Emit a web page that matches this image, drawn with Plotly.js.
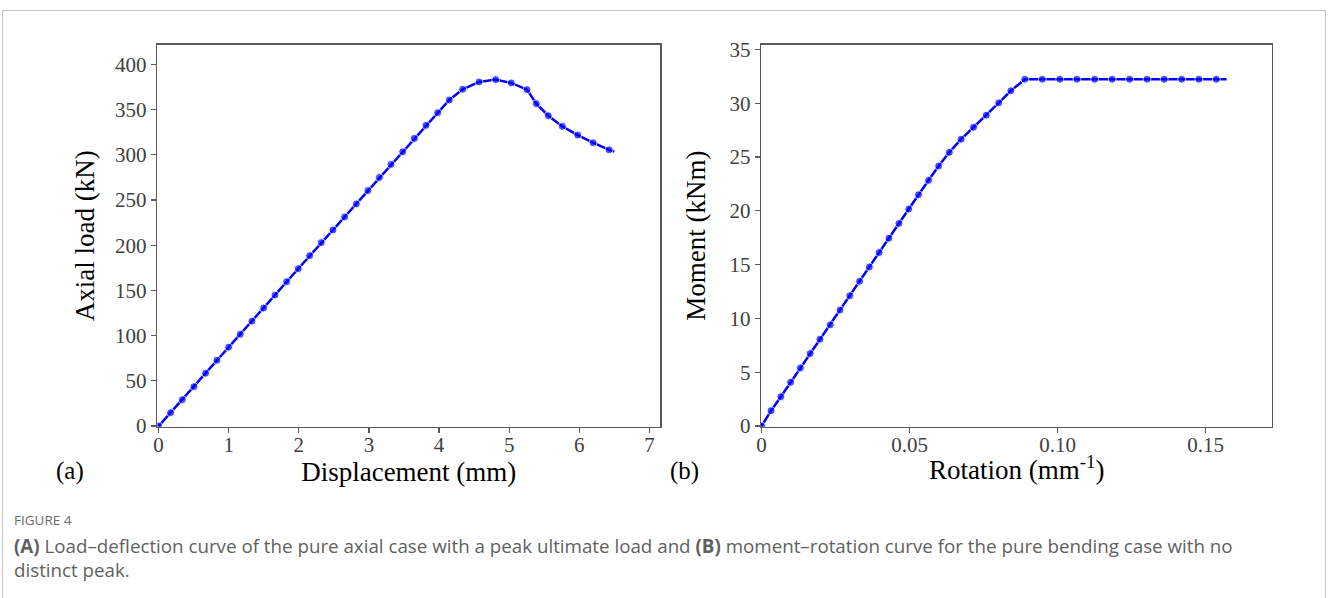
<!DOCTYPE html>
<html>
<head>
<meta charset="utf-8">
<script src="https://cdn.plot.ly/plotly-3.0.1.min.js"></script>
<style>
  html, body { margin: 0; padding: 0; background: #ffffff; }
  #chart { width: 1328px; height: 598px; }
</style>
</head>
<body>
<div id="chart"></div>
<script>
// Panel (a): load–deflection, pure axial case
const dispMm = [0, 0.171, 0.338, 0.504, 0.670, 0.832, 0.999, 1.165, 1.331, 1.498, 1.660, 1.826, 1.992,
  2.154, 2.320, 2.487, 2.653, 2.820, 2.986, 3.148, 3.314, 3.481, 3.647, 3.814, 3.980, 4.146,
  4.337, 4.570, 4.807, 5.030, 5.254, 5.387, 5.558, 5.758, 5.977, 6.196, 6.424, 6.500];
const axialKN = [0, 14.8, 29.2, 43.6, 58.4, 72.8, 87.2, 101.6, 116.0, 130.4, 144.8, 159.6, 174.0,
  188.4, 202.8, 216.8, 231.2, 245.6, 260.4, 274.8, 289.2, 303.2, 318.0, 332.4, 346.4, 360.5,
  372.3, 380.4, 383.0, 379.3, 371.9, 356.4, 343.1, 331.3, 321.7, 313.2, 305.4, 303.4];

// Panel (b): moment–rotation, pure bending case
const rotation = [0, 0.0032, 0.0065, 0.0098, 0.0131, 0.0164, 0.0197, 0.0232, 0.0265, 0.0298, 0.0331,
  0.0364, 0.0397, 0.0430, 0.0464, 0.0497, 0.0530, 0.0564, 0.0598, 0.0634, 0.0674, 0.0716, 0.0759,
  0.0801, 0.0842, 0.0889, 0.0948, 0.1007, 0.1065, 0.1125, 0.1184, 0.1243, 0.1302, 0.1360, 0.1419,
  0.1477, 0.1536, 0.1571];
const momentKNm = [0, 1.43, 2.73, 4.07, 5.40, 6.74, 8.07, 9.41, 10.78, 12.11, 13.45, 14.78, 16.12,
  17.45, 18.82, 20.16, 21.49, 22.83, 24.16, 25.43, 26.65, 27.76, 28.88, 30.03, 31.15, 32.22,
  32.22, 32.22, 32.22, 32.22, 32.22, 32.22, 32.22, 32.22, 32.22, 32.22, 32.22, 32.22];

const xTicksA = [0, 1, 2, 3, 4, 5, 6, 7];
const yTicksA = [0, 50, 100, 150, 200, 250, 300, 350, 400];
const xTicksB = [0, 0.05, 0.10, 0.15];
const xTickTextB = ["0", "0.05", "0.10", "0.15"];
const yTicksB = [0, 5, 10, 15, 20, 25, 30, 35];

const captionLabel = "FIGURE 4";
const captionLine1 = "<b>(A)</b> Load\u2013deflection curve of the pure axial case with a peak ultimate load and <b>(B)</b> moment\u2013rotation curve for the pure bending case with no";
const captionLine2 = "distinct peak.";

const BLUE = "#0000ff";
const markerSizes = arr => arr.map((v, i) => (i === arr.length - 1 ? 0 : 8));

const traces = [
  { x: dispMm, y: axialKN, xaxis: "x", yaxis: "y", type: "scatter", mode: "lines+markers",
    line: { color: BLUE, width: 2.5 }, marker: { color: BLUE, size: markerSizes(dispMm) },
    hoverinfo: "x+y", showlegend: false },
  { x: rotation, y: momentKNm, xaxis: "x2", yaxis: "y2", type: "scatter", mode: "lines+markers",
    line: { color: BLUE, width: 2.5 }, marker: { color: BLUE, size: markerSizes(rotation) },
    hoverinfo: "x+y", showlegend: false }
];

const W = 1328, H = 598;
const px = v => v / W, py = v => 1 - v / H;
const serif = "Liberation Serif, Times New Roman, serif";
const tickFont = { family: serif, size: 21, color: "#404040" };
const titleFont = { family: serif, size: 27, color: "#000000" };
const axisCommon = {
  showgrid: false, zeroline: false, showline: true, mirror: true,
  linecolor: "#5a5a5a", linewidth: 1.4, ticks: "outside", ticklen: 5, tickwidth: 1.2,
  tickcolor: "#5a5a5a", tickfont: tickFont, automargin: false
};
const yDom = [py(426.8), py(44.5)];

const layout = {
  width: W, height: H,
  margin: { l: 0, r: 0, t: 0, b: 0 },
  paper_bgcolor: "#ffffff", plot_bgcolor: "#ffffff",
  showlegend: false,
  xaxis: Object.assign({}, axisCommon, {
    domain: [px(157.2), px(660.3)], range: [-0.02, 7.155], anchor: "y",
    tickvals: xTicksA, ticklabelstandoff: -6,
    title: { text: "Displacement (mm)", font: titleFont, standoff: 4 }
  }),
  yaxis: Object.assign({}, axisCommon, {
    domain: yDom, range: [-0.8, 421.8], anchor: "x",
    tickvals: yTicksA,
    title: { text: "Axial load (kN)", font: titleFont, standoff: 12 }
  }),
  xaxis2: Object.assign({}, axisCommon, {
    domain: [px(761), px(1272)], range: [-0.0002, 0.1724], anchor: "y2",
    tickvals: xTicksB, ticktext: xTickTextB, ticklabelstandoff: -6
  }),
  yaxis2: Object.assign({}, axisCommon, {
    domain: yDom, range: [-0.07, 35.45], anchor: "x2",
    tickvals: yTicksB,
    title: { text: "Moment (kNm)", font: titleFont, standoff: 16 }
  }),
  annotations: [
    { text: "Rotation (mm<sup>-1</sup>)", xref: "paper", yref: "paper", x: px(1016.5), y: py(468), xanchor: "center", yanchor: "middle",
      showarrow: false, font: titleFont },
    { text: "(a)", xref: "paper", yref: "paper", x: px(70), y: py(471), xanchor: "center", yanchor: "middle",
      showarrow: false, font: { family: serif, size: 25, color: "#000" } },
    { text: "(b)", xref: "paper", yref: "paper", x: px(684), y: py(471), xanchor: "center", yanchor: "middle",
      showarrow: false, font: { family: serif, size: 25, color: "#000" } },
    { text: captionLabel, xref: "paper", yref: "paper", x: px(12), y: py(520), xanchor: "left", yanchor: "middle",
      showarrow: false, font: { family: "Open Sans, Noto Sans, sans-serif", size: 13.5, color: "#6b6b6b" } },
    { text: captionLine1, xref: "paper", yref: "paper", x: px(12), y: py(545), xanchor: "left", yanchor: "middle",
      showarrow: false, font: { family: "Open Sans, Noto Sans, sans-serif", size: 18.75, color: "#5f5f5f" } },
    { text: captionLine2, xref: "paper", yref: "paper", x: px(12), y: py(569), xanchor: "left", yanchor: "middle",
      showarrow: false, font: { family: "Open Sans, Noto Sans, sans-serif", size: 18.75, color: "#5f5f5f" } }
  ],
  shapes: [
    { type: "rect", xref: "paper", yref: "paper", x0: px(2.5), x1: px(1325.5), y0: -0.05, y1: py(10.5),
      line: { color: "#c4c4c4", width: 1 }, fillcolor: "rgba(0,0,0,0)", layer: "below" }
  ]
};

Plotly.newPlot("chart", traces, layout, { displayModeBar: false, staticPlot: true });
</script>
</body>
</html>
